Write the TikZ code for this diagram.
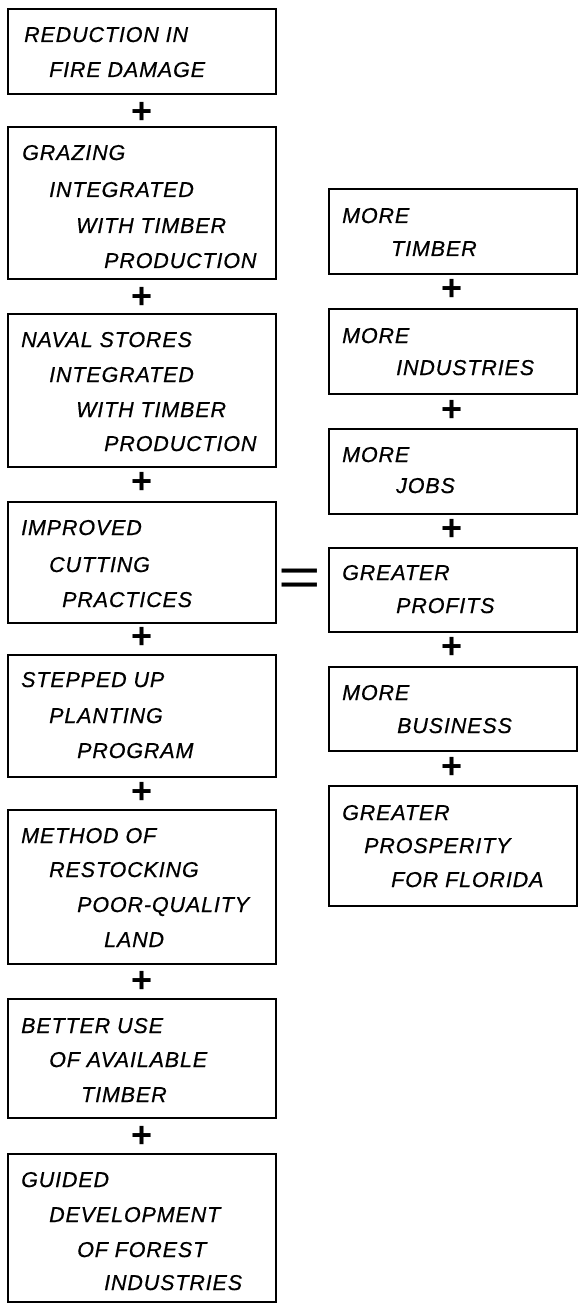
\documentclass[tikz,border=0pt]{standalone}
\usepackage{fontspec}
\setmainfont{Liberation Sans}
\newfontfamily\lettering{Liberation Sans}[LetterSpace=4.0, FakeBold=0.6]
\begin{document}
\begin{tikzpicture}[x=1pt,y=-1pt,
  box/.style={draw, line width=1.6pt, rectangle, inner sep=0pt, anchor=north west},
  lab/.style={anchor=base west, inner sep=0pt, font=\lettering\fontsize{21.5}{35}\selectfont\itshape},
  plussign/.style={inner sep=0pt, font=\fontsize{36}{36}\selectfont\bfseries},
  eqsign/.style={inner sep=0pt, font=\fontsize{56}{56}\selectfont, xscale=1.3}]
\useasboundingbox (0,0) rectangle (578,1305);
% left column boxes
\node[box, minimum width=268pt, minimum height=85pt]  (L1) at (7,8) {};
\node[box, minimum width=268pt, minimum height=152pt] (L2) at (7,126) {};
\node[box, minimum width=268pt, minimum height=153pt] (L3) at (7,313) {};
\node[box, minimum width=268pt, minimum height=121pt] (L4) at (7,501) {};
\node[box, minimum width=268pt, minimum height=122pt] (L5) at (7,654) {};
\node[box, minimum width=268pt, minimum height=154pt] (L6) at (7,809) {};
\node[box, minimum width=268pt, minimum height=119pt] (L7) at (7,998) {};
\node[box, minimum width=268pt, minimum height=148pt] (L8) at (7,1153) {};
% right column boxes
\node[box, minimum width=248pt, minimum height=85pt]  (R1) at (328,188) {};
\node[box, minimum width=248pt, minimum height=85pt]  (R2) at (328,308) {};
\node[box, minimum width=248pt, minimum height=85pt]  (R3) at (328,428) {};
\node[box, minimum width=248pt, minimum height=84pt]  (R4) at (328,547) {};
\node[box, minimum width=248pt, minimum height=84pt]  (R5) at (328,666) {};
\node[box, minimum width=248pt, minimum height=120pt] (R6) at (328,785) {};
% left texts
\node[lab] (L1a) at (24,42) {REDUCTION IN};
\node[lab] (L1b) at (49,77) {FIRE DAMAGE};
\node[lab] (L2a) at (22,160) {GRAZING};
\node[lab] (L2b) at (49,197) {INTEGRATED};
\node[lab] (L2c) at (76,233) {WITH TIMBER};
\node[lab] (L2d) at (104,268) {PRODUCTION};
\node[lab] (L3a) at (21,347) {NAVAL STORES};
\node[lab] (L3b) at (49,382) {INTEGRATED};
\node[lab] (L3c) at (76,417) {WITH TIMBER};
\node[lab] (L3d) at (104,451) {PRODUCTION};
\node[lab] (L4a) at (21,535) {IMPROVED};
\node[lab] (L4b) at (49,572) {CUTTING};
\node[lab] (L4c) at (62,607) {PRACTICES};
\node[lab] (L5a) at (21,687) {STEPPED UP};
\node[lab] (L5b) at (49,723) {PLANTING};
\node[lab] (L5c) at (77,758) {PROGRAM};
\node[lab] (L6a) at (21,843) {METHOD OF};
\node[lab] (L6b) at (49,877) {RESTOCKING};
\node[lab] (L6c) at (77,912) {POOR-QUALITY};
\node[lab] (L6d) at (104,947) {LAND};
\node[lab] (L7a) at (21,1033) {BETTER USE};
\node[lab] (L7b) at (49,1067) {OF AVAILABLE};
\node[lab] (L7c) at (81,1102) {TIMBER};
\node[lab] (L8a) at (21,1187) {GUIDED};
\node[lab] (L8b) at (49,1222) {DEVELOPMENT};
\node[lab] (L8c) at (77,1257) {OF FOREST};
\node[lab] (L8d) at (104,1290) {INDUSTRIES};
% right texts
\node[lab] (R1a) at (342,223) {MORE};
\node[lab] (R1b) at (391,256) {TIMBER};
\node[lab] (R2a) at (342,343) {MORE};
\node[lab] (R2b) at (396,375) {INDUSTRIES};
\node[lab] (R3a) at (342,462) {MORE};
\node[lab] (R3b) at (396,493) {JOBS};
\node[lab] (R4a) at (342,580) {GREATER};
\node[lab] (R4b) at (396,613) {PROFITS};
\node[lab] (R5a) at (342,700) {MORE};
\node[lab] (R5b) at (397,733) {BUSINESS};
\node[lab] (R6a) at (342,820) {GREATER};
\node[lab] (R6b) at (364,853) {PROSPERITY};
\node[lab] (R6c) at (391,887) {FOR FLORIDA};
% plus signs
\node[plussign] (p1) at (142,113) {+};
\node[plussign] (p2) at (142,298) {+};
\node[plussign] (p3) at (142,483) {+};
\node[plussign] (p4) at (142,638) {+};
\node[plussign] (p5) at (142,793) {+};
\node[plussign] (p6) at (142,982) {+};
\node[plussign] (p7) at (142,1137) {+};
\node[plussign] (q1) at (452,290) {+};
\node[plussign] (q2) at (452,411) {+};
\node[plussign] (q3) at (452,530) {+};
\node[plussign] (q4) at (452,648) {+};
\node[plussign] (q5) at (452,768) {+};
% equals sign
\node[eqsign] (eq) at (300,583) {=};
\end{tikzpicture}
\end{document}
